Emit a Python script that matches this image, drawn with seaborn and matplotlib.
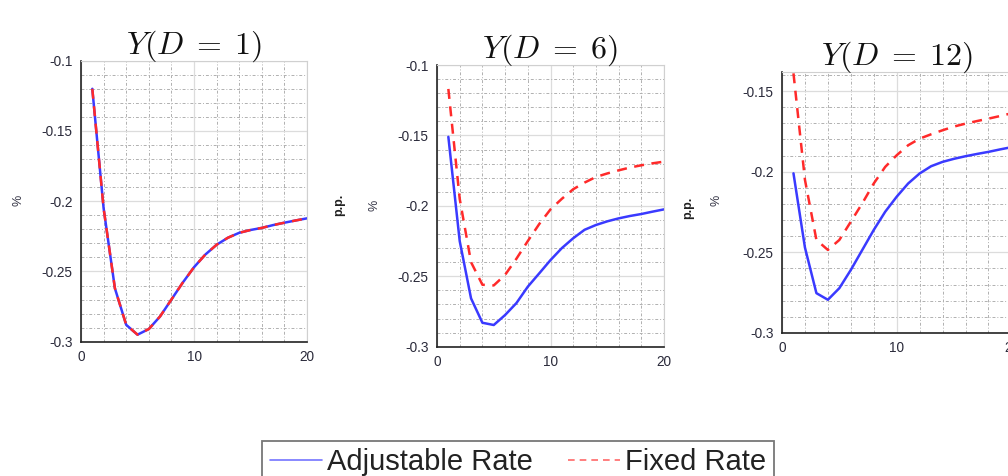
import numpy as np
import pandas as pd
import matplotlib
matplotlib.use("Agg")
import matplotlib.pyplot as plt
import seaborn as sns
from matplotlib.ticker import MultipleLocator
from matplotlib.lines import Line2D

sns.set_theme(style="white")
plt.rcParams['font.family'] = ['Liberation Sans', 'DejaVu Sans']
plt.rcParams['mathtext.fontset'] = 'cm'

horizon = [1, 2, 3, 4, 5, 6, 7, 8, 9, 10, 11, 12, 13, 14, 15, 16, 17, 18, 19, 20]

adj_d1 = [-0.120, -0.205, -0.262, -0.288, -0.295, -0.291, -0.282, -0.270, -0.258, -0.247,
          -0.238, -0.231, -0.226, -0.2225, -0.2205, -0.219, -0.217, -0.2153, -0.2137, -0.2122]
fix_d1 = adj_d1

adj_d6 = [-0.151, -0.225, -0.2657, -0.283, -0.2846, -0.2775, -0.269, -0.2574, -0.248, -0.2385,
          -0.230, -0.223, -0.217, -0.2136, -0.211, -0.2089, -0.2072, -0.2058, -0.2041, -0.2025]
fix_d6 = [-0.117, -0.195, -0.240, -0.256, -0.2565, -0.249, -0.2375, -0.225, -0.213, -0.2025,
          -0.195, -0.1882, -0.1835, -0.1795, -0.177, -0.1748, -0.1728, -0.1712, -0.1698, -0.1686]

adj_d12 = [-0.201, -0.247, -0.2753, -0.2794, -0.2722, -0.2609, -0.2485, -0.2361, -0.2248, -0.2155,
           -0.2073, -0.2011, -0.1966, -0.1939, -0.192, -0.1904, -0.189, -0.1877, -0.1862, -0.1848]
fix_d12 = [-0.139, -0.205, -0.2423, -0.2485, -0.2423, -0.231, -0.2196, -0.2073, -0.197, -0.1898,
           -0.1836, -0.1795, -0.1768, -0.1743, -0.172, -0.1702, -0.1686, -0.1671, -0.1655, -0.1638]

titles = [r'$Y(D\;=\;1)$', r'$Y(D\;=\;6)$', r'$Y(D\;=\;12)$']
series = [(adj_d1, fix_d1), (adj_d6, fix_d6), (adj_d12, fix_d12)]
ylims = [(-0.3, -0.1), (-0.3, -0.1), (-0.3, -0.138)]
yticks = [[-0.3, -0.25, -0.2, -0.15, -0.1], [-0.3, -0.25, -0.2, -0.15, -0.1], [-0.3, -0.25, -0.2, -0.15]]
ytick_labels = [['-0.3', '-0.25', '-0.2', '-0.15', '-0.1'], ['-0.3', '-0.25', '-0.2', '-0.15', '-0.1'],
                ['-0.3', '-0.25', '-0.2', '-0.15']]

W, H = 1008, 476
fig = plt.figure(figsize=(W / 100, H / 100), dpi=100)

# axes boxes in pixels: left, right, top, bottom
boxes = [(81, 307, 60.7, 341.7), (437, 664, 65, 346.7), (782, 1011.4, 71.7, 333)]

BLUE = '#3a3aff'
RED = '#ff2a2a'
TICKC = '#2a2a3a'

for i, (b, (adj, fix)) in enumerate(zip(boxes, series)):
    l, r, t, bt = b
    ax = fig.add_axes([l / W, 1 - bt / H, (r - l) / W, (bt - t) / H])
    df = pd.DataFrame({'h': horizon, 'adj': adj, 'fix': fix})
    sns.lineplot(data=df, x='h', y='adj', ax=ax, color=BLUE, linewidth=1.8)
    sns.lineplot(data=df, x='h', y='fix', ax=ax, color=RED, linewidth=1.8, linestyle=(0, (4, 3)))
    ax.set_xlim(0, 20)
    ax.set_ylim(*ylims[i])
    ax.set_xticks([0, 10, 20])
    ax.set_xticklabels(['0', '10', '20'])
    ax.set_yticks(yticks[i])
    ax.set_yticklabels(ytick_labels[i])
    ax.xaxis.set_minor_locator(MultipleLocator(2))
    ax.yaxis.set_minor_locator(MultipleLocator(0.01))
    ax.grid(which='major', color='#dcdcdc', linewidth=0.9, linestyle='-')
    ax.grid(which='minor', color='#b0b0b0', linewidth=0.7, linestyle=(0, (3, 2, 1, 2)))
    ax.set_axisbelow(True)
    ax.tick_params(axis='both', which='major', labelsize=9.8, colors=TICKC, direction='in',
                   length=3, width=0.8, pad=6)
    ax.tick_params(axis='both', which='minor', length=0)
    for s in ['left', 'bottom']:
        ax.spines[s].set_color('#222222')
        ax.spines[s].set_linewidth(1.2)
    for s in ['top', 'right']:
        ax.spines[s].set_color('#d0d0d0')
        ax.spines[s].set_linewidth(0.8)
    ax.set_xlabel('')
    ax.set_ylabel('')
    ax.set_title(titles[i], fontsize=23, pad=5, color='#111111')

# y labels
for (x, y) in [(18, 200), (375, 205), (717, 200)]:
    fig.text(x / W, 1 - y / H, '%', rotation=90, fontsize=9, color='#333344',
             ha='center', va='center')
fig.text(339 / W, 1 - 205 / H, 'p.p.', rotation=90, fontsize=9, color='#222222',
         ha='center', va='center', fontweight='bold')
fig.text(688 / W, 1 - 208 / H, 'p.p.', rotation=90, fontsize=9, color='#222222',
         ha='center', va='center', fontweight='bold')

handles = [Line2D([0], [0], color=BLUE, lw=1.2, alpha=0.7),
           Line2D([0], [0], color=RED, lw=1.2, alpha=0.7, linestyle=(0, (4, 3)))]
leg = fig.legend(handles, ['Adjustable Rate', 'Fixed Rate'], loc='upper center',
                 bbox_to_anchor=(518 / W, 1 - 441 / H), ncol=2, fontsize=21,
                 frameon=True, fancybox=False, edgecolor='#555555', handlelength=1.8,
                 handletextpad=0.17, columnspacing=1.2, borderpad=0.25, borderaxespad=0)
leg.get_frame().set_linewidth(1.3)
for t in leg.get_texts():
    t.set_color('#222222')

fig.savefig('out.png', dpi=100)
